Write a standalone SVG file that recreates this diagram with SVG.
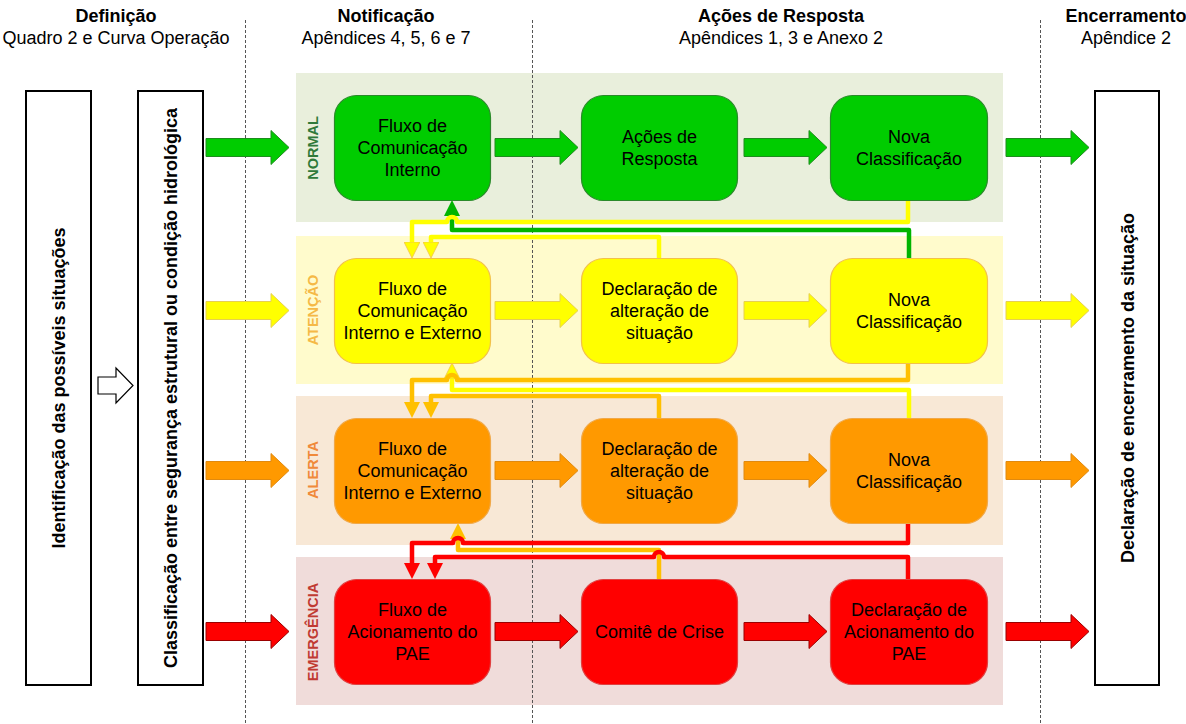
<svg xmlns="http://www.w3.org/2000/svg" width="1186" height="724" viewBox="0 0 1186 724">
<style>
text{font-family:"Liberation Sans",Arial,sans-serif;fill:#000}
.h{font-size:18px;text-anchor:middle}
.hb{font-size:18px;font-weight:bold;text-anchor:middle}
.t{font-size:18px;text-anchor:middle}
.v{font-size:18px;font-weight:bold;text-anchor:middle}
.lane{font-size:14.5px;font-weight:bold;text-anchor:middle}
.sep{stroke:#555;stroke-width:1;stroke-dasharray:3 2;fill:none}
.wbox{fill:#fff;stroke:#000;stroke-width:2}
.gB{fill:#00CC00;stroke:#2A8A2A;stroke-width:1.2}
.yB{fill:#FFFF00;stroke:#F2C14A;stroke-width:1.2}
.oB{fill:#FF9900;stroke:#F0A848;stroke-width:1.2}
.rB{fill:#FF0000;stroke:#E04040;stroke-width:1.2}
.gA{fill:#00CC00;stroke:#1E8C1E;stroke-width:1}
.yA{fill:#FFFF00;stroke:#E6D050;stroke-width:1}
.oA{fill:#FF9900;stroke:#E08A10;stroke-width:1}
.rA{fill:#FF0000;stroke:#9A0000;stroke-width:1}
.c{fill:none;stroke-width:4.5;stroke-linecap:round;stroke-linejoin:round}
.cg{stroke:#00B400}
.cy{stroke:#FFFF00}
.ca{stroke:#FFC000}
.cr{stroke:#FF0000}
</style>
<defs>
<marker id="mg" viewBox="0 0 16 16" refX="2" refY="8" markerWidth="16" markerHeight="16" orient="auto" markerUnits="userSpaceOnUse"><path d="M0,0 L16,8 L0,16 Z" fill="#00B400"/></marker>
<marker id="my" viewBox="0 0 16 16" refX="2" refY="8" markerWidth="16" markerHeight="16" orient="auto" markerUnits="userSpaceOnUse"><path d="M0,0 L16,8 L0,16 Z" fill="#FFFF00" stroke="#F2C14A" stroke-width="0.8"/></marker>
<marker id="ma" viewBox="0 0 16 16" refX="2" refY="8" markerWidth="16" markerHeight="16" orient="auto" markerUnits="userSpaceOnUse"><path d="M0,0 L16,8 L0,16 Z" fill="#FFC000"/></marker>
<marker id="mr" viewBox="0 0 16 16" refX="2" refY="8" markerWidth="16" markerHeight="16" orient="auto" markerUnits="userSpaceOnUse"><path d="M0,0 L16,8 L0,16 Z" fill="#FF0000"/></marker>
</defs>
<rect width="1186" height="724" fill="#fff"/>

<g id="lanes">
<rect x="296" y="73" width="707" height="149" fill="#E9EFDC"/>
<rect x="296" y="236" width="707" height="148" fill="#FFFBCC"/>
<rect x="296" y="396" width="707" height="149" fill="#F8E8D6"/>
<rect x="296" y="557" width="707" height="148" fill="#F0DCDA"/>
<text class="lane" transform="translate(318,148) rotate(-90)" style="fill:#2F7A3A">NORMAL</text>
<text class="lane" transform="translate(318,310) rotate(-90)" style="fill:#F5B946">ATENÇÃO</text>
<text class="lane" transform="translate(318,470) rotate(-90)" style="fill:#F08A3A">ALERTA</text>
<text class="lane" transform="translate(318,632) rotate(-90)" style="fill:#C03A32">EMERGÊNCIA</text>
</g>

<g id="separators">
<line class="sep" x1="245.5" y1="20" x2="245.5" y2="724"/>
<line class="sep" x1="532.5" y1="20" x2="532.5" y2="724"/>
<line class="sep" x1="1040.5" y1="20" x2="1040.5" y2="724"/>
</g>

<g id="headers">
<text class="hb" x="116" y="22">Definição</text>
<text class="h" x="116" y="44">Quadro 2 e Curva Operação</text>
<text class="hb" x="386" y="22">Notificação</text>
<text class="h" x="386" y="44">Apêndices 4, 5, 6 e 7</text>
<text class="hb" x="781" y="22">Ações de Resposta</text>
<text class="h" x="781" y="44">Apêndices 1, 3 e Anexo 2</text>
<text class="hb" x="1126" y="22">Encerramento</text>
<text class="h" x="1126" y="44">Apêndice 2</text>
</g>

<g id="identificacao">
<rect class="wbox" x="26" y="91" width="65" height="594"/>
<text class="v" transform="translate(65,388) rotate(-90)">Identificação das possíveis situações</text>
</g>
<g id="seta-classificacao">
<path d="M98,377 H116 V368 L133,385.5 L116,403 V394 H98 Z" fill="#fff" stroke="#000" stroke-width="1.2"/>
</g>
<g id="classificacao">
<rect class="wbox" x="138" y="91" width="65" height="594"/>
<text class="v" transform="translate(177,388) rotate(-90)">Classificação entre segurança estrutural ou condição hidrológica</text>
</g>
<g id="encerramento">
<rect class="wbox" x="1095" y="91" width="64" height="594"/>
<text class="v" transform="translate(1133.5,388) rotate(-90)">Declaração de encerramento da situação</text>
</g>

<g id="block-arrows">
<path class="gA" d="M206,138.5 H271 V130.5 L289,147.5 L271,164.5 V156.5 H206 Z"/>
<path class="gA" d="M495,138.5 H560 V130.5 L578,147.5 L560,164.5 V156.5 H495 Z"/>
<path class="gA" d="M744,138.5 H809 V130.5 L827,147.5 L809,164.5 V156.5 H744 Z"/>
<path class="gA" d="M1006,138.5 H1071 V130.5 L1089,147.5 L1071,164.5 V156.5 H1006 Z"/>
<path class="yA" d="M206,301.5 H271 V293.5 L289,310.5 L271,327.5 V319.5 H206 Z"/>
<path class="yA" d="M495,301.5 H560 V293.5 L578,310.5 L560,327.5 V319.5 H495 Z"/>
<path class="yA" d="M744,301.5 H809 V293.5 L827,310.5 L809,327.5 V319.5 H744 Z"/>
<path class="yA" d="M1006,301.5 H1071 V293.5 L1089,310.5 L1071,327.5 V319.5 H1006 Z"/>
<path class="oA" d="M206,461.5 H271 V453.5 L289,470.5 L271,487.5 V479.5 H206 Z"/>
<path class="oA" d="M495,461.5 H560 V453.5 L578,470.5 L560,487.5 V479.5 H495 Z"/>
<path class="oA" d="M744,461.5 H809 V453.5 L827,470.5 L809,487.5 V479.5 H744 Z"/>
<path class="oA" d="M1006,461.5 H1071 V453.5 L1089,470.5 L1071,487.5 V479.5 H1006 Z"/>
<path class="rA" d="M206,622.5 H271 V614.5 L289,631.5 L271,648.5 V640.5 H206 Z"/>
<path class="rA" d="M495,622.5 H560 V614.5 L578,631.5 L560,648.5 V640.5 H495 Z"/>
<path class="rA" d="M744,622.5 H809 V614.5 L827,631.5 L809,648.5 V640.5 H744 Z"/>
<path class="rA" d="M1006,622.5 H1071 V614.5 L1089,631.5 L1071,648.5 V640.5 H1006 Z"/>
</g>

<g id="connectors">
<path class="c cg" d="M909,258 V230 H452 V214" marker-end="url(#mg)"/>
<path class="c cy" d="M908,200 V222 H457 A5,5 0 0 0 447,222 H412 V244" marker-end="url(#my)"/>
<path class="c cy" d="M659,258 V237 H431 V244" marker-end="url(#my)"/>
<path class="c cy" d="M909,418 V390 H452 V377" marker-end="url(#my)"/>
<path class="c ca" d="M908,363 V380 H457 A5,5 0 0 0 447,380 H412 V404" marker-end="url(#ma)"/>
<path class="c ca" d="M659,418 V396 H431 V404" marker-end="url(#ma)"/>
<path class="c ca" d="M659,579 V550 H458 V537" marker-end="url(#ma)"/>
<path class="c cr" d="M908,523 V543 H463 A5,5 0 0 0 453,543 H412 V565" marker-end="url(#mr)"/>
<path class="c cr" d="M908,579 V557 H664 A5,5 0 0 0 654,557 H435 V565" marker-end="url(#mr)"/>
</g>

<g id="normal-fluxo">
<rect class="gB" x="334.5" y="95.5" width="156" height="105" rx="22"/>
<text class="t" x="412.5" y="131.5">Fluxo de</text>
<text class="t" x="412.5" y="153.5">Comunicação</text>
<text class="t" x="412.5" y="175.5">Interno</text>
</g>
<g id="normal-acoes">
<rect class="gB" x="581.5" y="95.5" width="156" height="105" rx="22"/>
<text class="t" x="659.5" y="142.5">Ações de</text>
<text class="t" x="659.5" y="164.5">Resposta</text>
</g>
<g id="normal-nova">
<rect class="gB" x="830.5" y="95.5" width="157" height="105" rx="22"/>
<text class="t" x="909" y="142.5">Nova</text>
<text class="t" x="909" y="164.5">Classificação</text>
</g>

<g id="atencao-fluxo">
<rect class="yB" x="334.5" y="258.5" width="156" height="105" rx="22"/>
<text class="t" x="412.5" y="294.5">Fluxo de</text>
<text class="t" x="412.5" y="316.5">Comunicação</text>
<text class="t" x="412.5" y="338.5">Interno e Externo</text>
</g>
<g id="atencao-declaracao">
<rect class="yB" x="581.5" y="258.5" width="156" height="105" rx="22"/>
<text class="t" x="659.5" y="294.5">Declaração de</text>
<text class="t" x="659.5" y="316.5">alteração de</text>
<text class="t" x="659.5" y="338.5">situação</text>
</g>
<g id="atencao-nova">
<rect class="yB" x="830.5" y="258.5" width="157" height="105" rx="22"/>
<text class="t" x="909" y="305.5">Nova</text>
<text class="t" x="909" y="327.5">Classificação</text>
</g>

<g id="alerta-fluxo">
<rect class="oB" x="334.5" y="418.5" width="156" height="105" rx="22"/>
<text class="t" x="412.5" y="454.5">Fluxo de</text>
<text class="t" x="412.5" y="476.5">Comunicação</text>
<text class="t" x="412.5" y="498.5">Interno e Externo</text>
</g>
<g id="alerta-declaracao">
<rect class="oB" x="581.5" y="418.5" width="156" height="105" rx="22"/>
<text class="t" x="659.5" y="454.5">Declaração de</text>
<text class="t" x="659.5" y="476.5">alteração de</text>
<text class="t" x="659.5" y="498.5">situação</text>
</g>
<g id="alerta-nova">
<rect class="oB" x="830.5" y="418.5" width="157" height="105" rx="22"/>
<text class="t" x="909" y="465.5">Nova</text>
<text class="t" x="909" y="487.5">Classificação</text>
</g>

<g id="emergencia-fluxo">
<rect class="rB" x="334.5" y="579.5" width="156" height="105" rx="22"/>
<text class="t" x="412.5" y="616">Fluxo de</text>
<text class="t" x="412.5" y="638">Acionamento do</text>
<text class="t" x="412.5" y="660">PAE</text>
</g>
<g id="emergencia-comite">
<rect class="rB" x="581.5" y="579.5" width="156" height="105" rx="22"/>
<text class="t" x="659.5" y="638">Comitê de Crise</text>
</g>
<g id="emergencia-declaracao">
<rect class="rB" x="830.5" y="579.5" width="157" height="105" rx="22"/>
<text class="t" x="909" y="616">Declaração de</text>
<text class="t" x="909" y="638">Acionamento do</text>
<text class="t" x="909" y="660">PAE</text>
</g>
</svg>
